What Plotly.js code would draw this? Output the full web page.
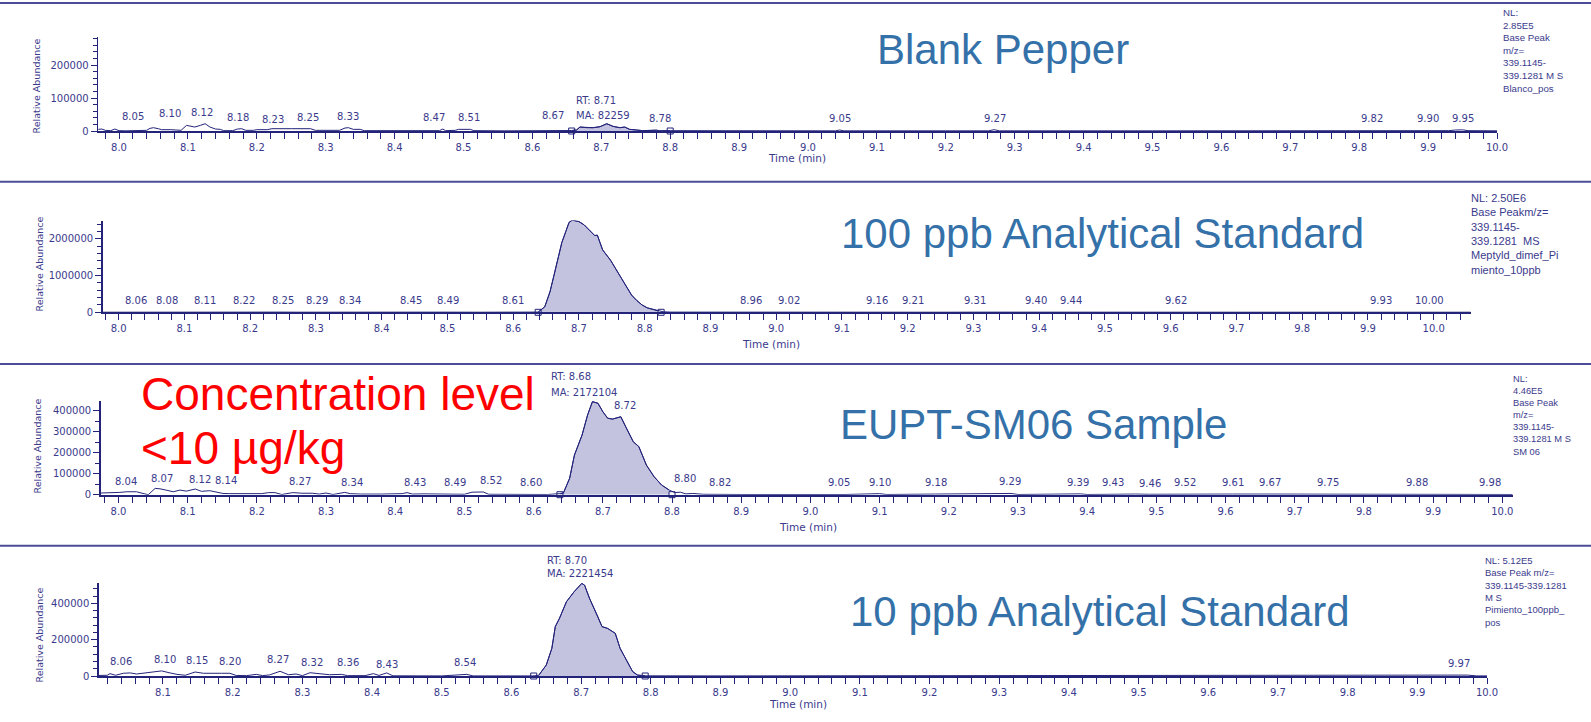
<!DOCTYPE html>
<html><head><meta charset="utf-8">
<script src="https://cdn.plot.ly/plotly-3.0.1.min.js"></script>
<style>html,body{margin:0;padding:0;background:#fff}#chart{width:1591px;height:722px}</style>
</head><body><div id="chart"></div><script>
// ---------------- DATA ----------------
// Panel 1: Blank Pepper
const p1Title = 'Blank Pepper';
const p1Time = [7.970,7.975,7.980,7.988,7.994,8.000,8.010,8.030,8.040,8.045,8.050,8.057,8.062,8.075,8.083,8.090,8.098,8.103,8.110,8.118,8.125,8.132,8.140,8.147,8.152,8.165,8.172,8.178,8.184,8.195,8.200,8.215,8.222,8.250,8.278,8.285,8.300,8.320,8.328,8.333,8.340,8.350,8.356,8.400,8.450,8.465,8.470,8.474,8.488,8.493,8.510,8.515,8.560,8.600,8.650,8.657,8.664,8.669,8.679,8.688,8.698,8.708,8.717,8.727,8.734,8.741,8.751,8.760,8.780,8.785,8.800,8.900,9.040,9.046,9.052,9.200,9.262,9.270,9.278,9.500,9.815,9.820,9.825,9.895,9.900,9.905,9.930,9.940,9.950,9.958,10.000];
const p1Int  = [5000,6000,2000,1000,6000,1000,500,500,2000,8000,10000,7000,4000,4000,3000,2000,17000,14000,12000,17000,22000,12000,6000,5000,1000,1000,6000,7000,2000,2000,4000,4000,7000,7000,7000,2000,1500,2000,9000,10000,5000,5000,1000,500,500,1000,6000,1000,2000,5000,5000,1000,500,500,1000,1500,3000,12000,10000,10000,13000,22000,14000,10000,12000,5000,3000,1000,2500,500,1000,500,500,3000,500,500,500,4000,500,500,500,2500,500,500,2500,500,1000,3000,3500,1000,500];
const p1Labels = [8.05,8.10,8.12,8.18,8.23,8.25,8.33,8.47,8.51,8.67,8.78,9.05,9.27,9.82,9.90,9.95];
const p1RT = 8.71, p1MA = 82259, p1NL = 285000;
const p1Window = [8.657, 8.80];
const p1Info = ['NL:','2.85E5','Base Peak','m/z=','339.1145-','339.1281 M S','Blanco_pos'];

// Panel 2: 100 ppb Analytical Standard
const p2Title = '100 ppb Analytical Standard';
const p2Time = [7.976,7.990,8.010,8.030,8.045,8.060,8.070,8.080,8.095,8.110,8.130,8.160,8.190,8.220,8.235,8.250,8.270,8.290,8.310,8.340,8.360,8.400,8.450,8.470,8.490,8.550,8.610,8.638,8.648,8.656,8.662,8.668,8.674,8.680,8.685,8.690,8.695,8.700,8.708,8.716,8.724,8.728,8.736,8.748,8.756,8.764,8.772,8.780,8.788,8.796,8.804,8.812,8.820,8.828,8.840,8.900,8.960,8.990,9.020,9.080,9.160,9.210,9.260,9.310,9.350,9.400,9.440,9.500,9.620,9.700,9.800,9.930,10.000,10.056];
const p2Int  = [2000,3000,2000,4000,3000,6000,3000,5000,3000,6000,3000,3000,2000,5000,2000,5000,3000,5000,2000,5000,2000,2000,4000,2000,4000,2000,4000,6000,150000,560000,1000000,1470000,1900000,2200000,2450000,2510000,2500000,2470000,2380000,2240000,2090000,2100000,1700000,1420000,1180000,930000,680000,470000,320000,200000,120000,80000,40000,15000,5000,2000,4000,2000,4000,2000,4000,4000,2000,4000,2000,4000,4000,2000,4000,2000,2000,4000,4000,2000];
const p2Labels = [8.06,8.08,8.11,8.22,8.25,8.29,8.34,8.45,8.49,8.61,8.96,9.02,9.16,9.21,9.31,9.40,9.44,9.62,9.93,10.00];
const p2RT = 8.69, p2MA = 12797520, p2NL = 2500000;
const p2Window = [8.638, 8.825];
const p2Info = ['NL: 2.50E6','Base Peakm/z=','339.1145-','339.1281  MS','Meptyld_dimef_Pi','miento_10ppb'];

// Panel 3: EUPT-SM06 Sample
const p3Title = 'EUPT-SM06 Sample';
const p3Time = [7.974,7.990,8.002,8.012,8.026,8.034,8.043,8.053,8.060,8.070,8.079,8.089,8.098,8.111,8.120,8.132,8.142,8.151,8.160,8.185,8.207,8.217,8.226,8.236,8.252,8.265,8.280,8.290,8.300,8.310,8.327,8.335,8.350,8.380,8.395,8.410,8.417,8.425,8.440,8.460,8.485,8.500,8.511,8.527,8.535,8.560,8.600,8.620,8.638,8.643,8.652,8.659,8.670,8.678,8.685,8.693,8.700,8.707,8.714,8.719,8.726,8.733,8.744,8.752,8.763,8.774,8.785,8.796,8.804,8.812,8.820,8.830,8.845,8.900,9.000,9.041,9.050,9.100,9.110,9.181,9.290,9.300,9.330,9.390,9.400,9.437,9.470,9.490,9.520,9.610,9.664,9.748,9.877,9.983,10.015];
const p3Int  = [8000,8000,11000,14000,14000,7000,0,30000,28000,21000,14000,22000,17000,27000,16000,19000,11000,6000,5000,4000,5000,10000,10000,1000,10000,7000,7000,3000,8000,1000,11000,5000,3000,3000,5000,5000,10000,3000,4000,3000,4000,2000,12000,13000,2000,1000,2000,1000,5000,8000,78000,189000,284000,380000,443000,435000,395000,364000,360000,364000,371000,324000,252000,229000,141000,86000,46000,22000,10000,12000,4000,6000,2000,1000,1000,4000,1000,5000,1000,3000,6000,1000,3000,4000,1000,3000,3000,2000,3000,3000,3000,2000,2000,2000,1000];
const p3Labels = [8.04,8.07,8.12,8.14,8.27,8.34,8.43,8.49,8.52,8.60,8.72,8.80,8.82,9.05,9.10,9.18,9.29,9.39,9.43,9.46,9.52,9.61,9.67,9.75,9.88,9.98];
const p3RT = 8.68, p3MA = 2172104, p3NL = 446000;
const p3Window = [8.638, 8.800];
const p3Info = ['NL:','4.46E5','Base Peak','m/z=','339.1145-','339.1281 M S','SM 06'];

// Panel 4: 10 ppb Analytical Standard
const p4Title = '10 ppb Analytical Standard';
const p4Time = [8.008,8.020,8.024,8.032,8.043,8.053,8.062,8.074,8.086,8.098,8.110,8.120,8.132,8.146,8.158,8.172,8.184,8.196,8.205,8.220,8.234,8.243,8.253,8.268,8.280,8.291,8.300,8.311,8.325,8.339,8.356,8.365,8.390,8.402,8.410,8.421,8.430,8.500,8.536,8.545,8.630,8.639,8.650,8.658,8.663,8.669,8.679,8.690,8.701,8.705,8.712,8.723,8.730,8.738,8.749,8.756,8.767,8.774,8.781,8.792,8.900,9.948,9.960,9.972,9.985,10.000];
const p4Int  = [3000,4000,13000,4000,15000,17000,11000,17000,20000,28000,17000,9000,4000,22000,15000,13000,15000,15000,3000,2000,9000,2000,6000,26000,7000,11000,2000,18000,11000,7000,9000,2000,2000,13000,3000,17000,1000,500,9000,500,500,3000,60000,152000,272000,318000,409000,464000,510000,500000,428000,336000,272000,262000,235000,152000,70000,24000,5000,1000,500,4000,1000,5000,500,500];
const p4Labels = [8.06,8.10,8.15,8.20,8.27,8.32,8.36,8.43,8.54,9.97];
const p4RT = 8.70, p4MA = 2221454, p4NL = 512000;
const p4Window = [8.632, 8.792];
const p4Info = ['NL: 5.12E5','Base Peak m/z=','339.1145-339.1281','M S','Pimiento_100ppb_','pos'];

// ---------------- LAYOUT / STYLE (pixel geometry, not data) ----------------
const W = 1591, H = 722;
const px = x => x / W;
const py = y => 1 - y / H;
const navy = '#23237a';
const textNavy = '#3a3a8c';
const titleBlue = '#3571a9';
const sepColor = '#4c4c98';

const geom = [
  {xpx:[98,1497],   xr:[7.9695,10.0],  ypx:[37,131],     ydt:100000,  ymin:20000,
   shifts:[-20,-18,0,-5,-4,17,2,-9,-1,-28,4,-2,1,-1,0,0],
   rtShift:-34, rtUp:23, maUp:8, info:{x:1501,y:5.5,size:9.7},
   title:{x:1003,y:49}, xt:{x:797,y:158}, yt:{x:36.5,y:86}},
  {xpx:[102.5,1471], xr:[7.9754,10.0567], ypx:[220.5,312.3], ydt:1000000, ymin:200000,
   shifts:[-22,-4,14,-19,0,8,8,-4,7,-7,1,0,-4,-1,-5,-3,5,-8,-7,-4],
   rtShift:-24, rtUp:29, maUp:12, info:{x:1469,y:189.5,size:11},
   title:{x:1102,y:233}, xt:{x:771,y:344}, yt:{x:38.5,y:264}},
  {xpx:[100.5,1512.7], xr:[7.974,10.015], ypx:[401,494.7], ydt:100000, ymin:50000,
   shifts:[-20,-5,-2,11,-5,-2,-1,-3,13,-3,8,13,34,-6,0,1,-1,-2,5,21,15,1,-4,-1,-2,2],
   rtShift:-40, rtUp:25, maUp:9, info:{x:1511,y:371.5,size:9.3},
   title:{x:1033,y:424}, xt:{x:808,y:527}, yt:{x:36.5,y:446}},
  {xpx:[98.6,1487], xr:[8.0076,10.0], ypx:[583,676], ydt:200000, ymin:40000,
   shifts:[-14,2,-1,-3,-3,-4,4,-6,-5,-7],
   rtShift:-36, rtUp:23, maUp:9.5, info:{x:1483,y:552.5,size:9.5},
   title:{x:1100,y:611}, xt:{x:797.6,y:704}, yt:{x:38.5,y:635}}
];

const panels = [
  {title:p1Title, t:p1Time, v:p1Int, labels:p1Labels, rt:p1RT, ma:p1MA, nl:p1NL, win:p1Window, info:p1Info},
  {title:p2Title, t:p2Time, v:p2Int, labels:p2Labels, rt:p2RT, ma:p2MA, nl:p2NL, win:p2Window, info:p2Info},
  {title:p3Title, t:p3Time, v:p3Int, labels:p3Labels, rt:p3RT, ma:p3MA, nl:p3NL, win:p3Window, info:p3Info},
  {title:p4Title, t:p4Time, v:p4Int, labels:p4Labels, rt:p4RT, ma:p4MA, nl:p4NL, win:p4Window, info:p4Info}
];

function localMax(t, v, x, w) {
  let m = 0;
  for (let i = 0; i < t.length; i++) if (Math.abs(t[i] - x) <= w && v[i] > m) m = v[i];
  return m;
}

const traces = [];
const annotations = [];
const shapes = [];
const layout = {
  width: W, height: H, autosize: false,
  margin: {l:0, r:0, t:0, b:0, pad:0},
  paper_bgcolor: '#ffffff', plot_bgcolor: 'rgba(0,0,0,0)',
  showlegend: false, hovermode: false,
  annotations, shapes
};

// separator lines
[3, 181.7, 364, 545.7].forEach(y => shapes.push({type:'line', xref:'paper', yref:'paper',
  x0:0, x1:1, y0:py(y), y1:py(y), line:{color:sepColor, width:2}, layer:'below'}));

panels.forEach((p, i) => {
  const g = geom[i];
  const sfx = i === 0 ? '' : String(i + 1);
  const xa = 'x' + sfx, ya = 'y' + sfx;

  layout['xaxis' + sfx] = {
    domain:[px(g.xpx[0]), px(g.xpx[1])], range:g.xr, anchor:ya,
    showline:true, linecolor:navy, linewidth:2, zeroline:false, showgrid:false,
    ticks:'outside', ticklen:6, tickwidth:1, tickcolor:navy,
    tick0:8, dtick:0.1, tickformat:'.1f',
    tickfont:{family:'DejaVu Sans', size:10, color:textNavy},
    minor:{dtick:0.02, tick0:8, ticks:'outside', ticklen:6, tickwidth:1, tickcolor:navy, showgrid:false},
    fixedrange:true
  };
  layout['yaxis' + sfx] = {
    domain:[py(g.ypx[1]), py(g.ypx[0])], range:[0, p.nl], anchor:xa,
    showline:true, linecolor:navy, linewidth:1.3, zeroline:false, showgrid:false,
    ticks:'outside', ticklen:6, tickwidth:1, tickcolor:navy,
    tick0:0, dtick:g.ydt, tickformat:'d',
    tickfont:{family:'DejaVu Sans', size:10, color:textNavy},
    minor:{dtick:g.ymin, tick0:0, ticks:'outside', ticklen:4, tickwidth:1, tickcolor:navy, showgrid:false},
    fixedrange:true
  };

  // integrated peak (filled)
  const ft = [], fv = [];
  p.t.forEach((tt, k) => { if (tt >= p.win[0] && tt <= p.win[1]) { ft.push(tt); fv.push(p.v[k]); } });
  traces.push({x:ft, y:fv, xaxis:xa, yaxis:ya, mode:'lines', fill:'tozeroy',
    fillcolor:'#c3c3df', line:{color:navy, width:1}, hoverinfo:'skip', cliponaxis:false});
  // chromatogram trace
  traces.push({x:p.t, y:p.v, xaxis:xa, yaxis:ya, mode:'lines',
    line:{color:navy, width:1}, hoverinfo:'skip', cliponaxis:false});
  // peak boundary markers
  traces.push({x:p.win, y:[0,0], xaxis:xa, yaxis:ya, mode:'markers',
    marker:{symbol:'square-open', size:6, color:navy, line:{width:1, color:navy}},
    hoverinfo:'skip', cliponaxis:false});

  // peak time labels
  p.labels.forEach((lt, k) => {
    annotations.push({xref:xa, yref:ya, x:lt, y:localMax(p.t, p.v, lt, 0.007),
      text:lt.toFixed(2), showarrow:false, xanchor:'center', yanchor:'bottom',
      xshift:g.shifts[k] || 0, yshift:4,
      font:{family:'DejaVu Sans', size:10, color:textNavy}});
  });

  // RT / MA labels
  const apex = localMax(p.t, p.v, p.rt, 0.007);
  annotations.push({xref:xa, yref:ya, x:p.rt, y:apex, text:'RT: ' + p.rt.toFixed(2),
    showarrow:false, xanchor:'left', yanchor:'middle', xshift:g.rtShift, yshift:g.rtUp,
    font:{family:'DejaVu Sans', size:10, color:textNavy}});
  annotations.push({xref:xa, yref:ya, x:p.rt, y:apex, text:'MA: ' + p.ma,
    showarrow:false, xanchor:'left', yanchor:'middle', xshift:g.rtShift, yshift:g.maUp,
    font:{family:'DejaVu Sans', size:10, color:textNavy}});

  // info block
  annotations.push({xref:'paper', yref:'paper', x:px(g.info.x), y:py(g.info.y),
    text:p.info.join('<br>'), showarrow:false, xanchor:'left', yanchor:'top', align:'left',
    font:{family:'Liberation Sans', size:g.info.size, color:textNavy}});

  // big panel title
  annotations.push({xref:'paper', yref:'paper', x:px(g.title.x), y:py(g.title.y),
    text:p.title, showarrow:false, xanchor:'center', yanchor:'middle',
    font:{family:'Liberation Sans', size:42, color:titleBlue}});

  // axis titles
  annotations.push({xref:'paper', yref:'paper', x:px(g.xt.x), y:py(g.xt.y),
    text:'Time (min)', showarrow:false, xanchor:'center', yanchor:'middle',
    font:{family:'DejaVu Sans', size:10.5, color:textNavy}});
  annotations.push({xref:'paper', yref:'paper', x:px(g.yt.x), y:py(g.yt.y),
    text:'Relative Abundance', showarrow:false, textangle:-90, xanchor:'center', yanchor:'middle',
    font:{family:'DejaVu Sans', size:9.5, color:textNavy}});
});

// red overlay note
annotations.push({xref:'paper', yref:'paper', x:px(139), y:py(394), text:'Concentration level',
  showarrow:false, xanchor:'left', yanchor:'middle', font:{family:'Liberation Sans', size:46, color:'#ff0000'}});
annotations.push({xref:'paper', yref:'paper', x:px(139), y:py(447.5), text:'&lt;10 µg/kg',
  showarrow:false, xanchor:'left', yanchor:'middle', font:{family:'Liberation Sans', size:46, color:'#ff0000'}});

Plotly.newPlot('chart', traces, layout, {staticPlot:true, displayModeBar:false});
</script></body></html>
